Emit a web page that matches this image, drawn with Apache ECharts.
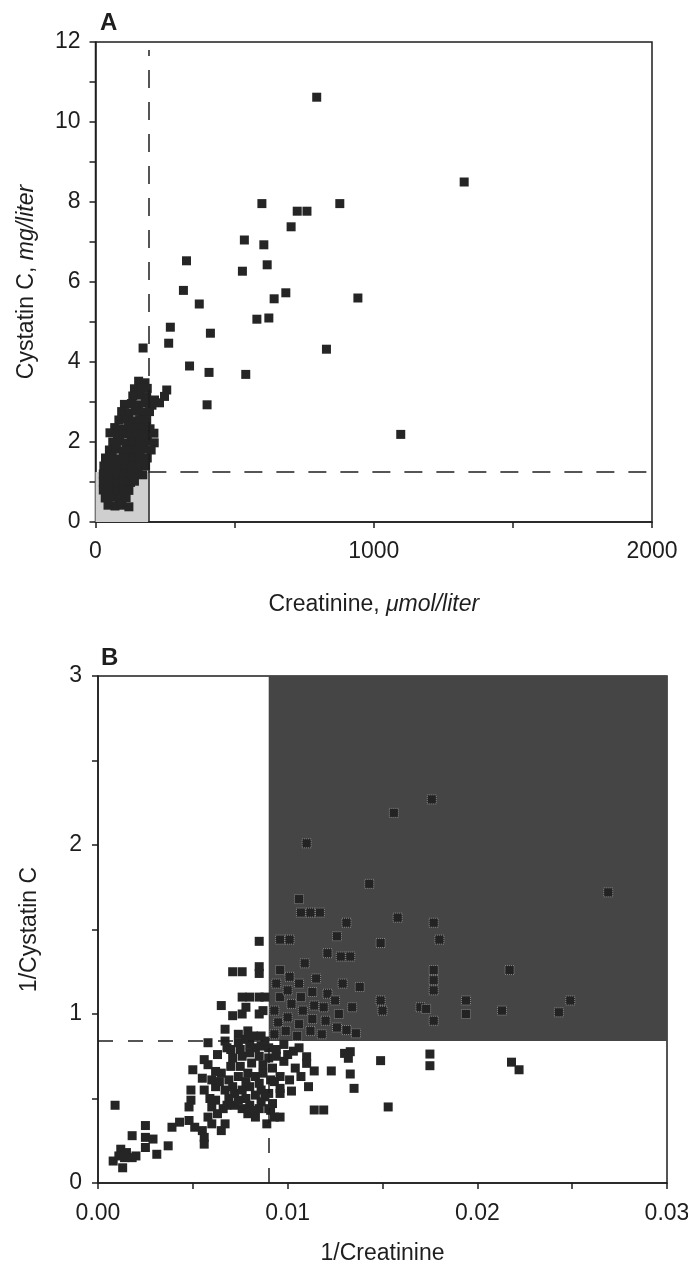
<!DOCTYPE html>
<html>
<head>
<meta charset="utf-8">
<script src="https://cdn.jsdelivr.net/npm/echarts@6/dist/echarts.min.js"></script>
<style>
html, body { margin: 0; padding: 0; background: #fff; }
#chart { width: 688px; height: 1275px; }
</style>
</head>
<body>
<div id="chart"></div>
<script>
// Panel A: creatinine (umol/liter) vs cystatin C (mg/liter)
const aOutliers = [
    [795, 10.62], [1325, 8.5], [598, 7.96], [878, 7.96], [725, 7.77], [760, 7.77],
    [703, 7.38], [535, 7.05], [605, 6.93], [327, 6.53], [528, 6.27], [617, 6.43],
    [316, 5.79], [684, 5.73], [642, 5.58], [943, 5.6], [373, 5.45], [580, 5.07],
    [623, 5.1], [269, 4.87], [413, 4.72], [263, 4.47], [171, 4.35], [830, 4.32],
    [338, 3.9], [408, 3.74], [540, 3.69], [401, 2.93], [1097, 2.19]
];
const aCluster = [
    [155, 3.52], [178, 3.48],
    [140, 3.33], [164, 3.36], [186, 3.34], [256, 3.3],
    [134, 3.15], [159, 3.17], [184, 3.13], [212, 3.05], [248, 3.14],
    [104, 2.94], [129, 2.96], [154, 2.93], [179, 2.97], [203, 2.92], [230, 2.98],
    [94, 2.76], [119, 2.73], [144, 2.77], [169, 2.74], [194, 2.76],
    [84, 2.55], [109, 2.57], [134, 2.53], [159, 2.56], [184, 2.54],
    [69, 2.36], [94, 2.33], [119, 2.37], [144, 2.34], [169, 2.36], [196, 2.33],
    [52, 2.23], [79, 2.18], [104, 2.21], [129, 2.17], [154, 2.2], [179, 2.18], [210, 2.22],
    [62, 2.0], [86, 2.02], [111, 1.98], [136, 2.01], [161, 1.99], [186, 2.02], [211, 1.98],
    [50, 1.8], [75, 1.82], [100, 1.78], [125, 1.81], [150, 1.79], [175, 1.82], [200, 1.8],
    [36, 1.6], [60, 1.62], [85, 1.58], [110, 1.61], [135, 1.59], [160, 1.62], [186, 1.6],
    [30, 1.4], [55, 1.42], [80, 1.38], [105, 1.41], [130, 1.39], [155, 1.42], [180, 1.4],
    [28, 1.2], [53, 1.22], [78, 1.18], [103, 1.21], [128, 1.19], [153, 1.22], [170, 1.18],
    [28, 1.0], [53, 1.02], [78, 0.98], [103, 1.01], [126, 0.99], [140, 1.02],
    [28, 0.8], [53, 0.82], [78, 0.78], [103, 0.81], [120, 0.79],
    [35, 0.6], [60, 0.62], [85, 0.58], [110, 0.61],
    [45, 0.42], [70, 0.4], [95, 0.42], [120, 0.38]
];
const aRefCreatinine = 190;
const aRefCystatin = 1.25;
const aXLabels = [0, 1000, 2000];
const aYLabels = [0, 2, 4, 6, 8, 10, 12];

// Panel B: 1/creatinine vs 1/cystatin C
const bPoints = [
    [0.0008, 0.13], [0.0013, 0.09], [0.0012, 0.20], [0.0015, 0.18], [0.0018, 0.15], [0.0014, 0.15],
    [0.0020, 0.16], [0.0011, 0.16], [0.0009, 0.46], [0.0018, 0.28], [0.0025, 0.34], [0.0025, 0.27],
    [0.0029, 0.26], [0.0025, 0.21], [0.0031, 0.17], [0.0037, 0.22], [0.0039, 0.33], [0.0043, 0.36],
    [0.0048, 0.37], [0.0051, 0.33], [0.0055, 0.31], [0.0060, 0.35], [0.0056, 0.27], [0.0058, 0.39],
    [0.0056, 0.23], [0.0065, 0.31], [0.0067, 0.35],
    [0.0049, 0.55], [0.0049, 0.49], [0.0048, 0.45], [0.0056, 0.55], [0.0059, 0.50], [0.0062, 0.57],
    [0.0055, 0.62], [0.0050, 0.67], [0.0058, 0.70], [0.0056, 0.73], [0.0060, 0.45], [0.0063, 0.41],
    [0.0065, 0.65], [0.0069, 0.61], [0.0074, 0.63], [0.0079, 0.65], [0.0083, 0.63], [0.0087, 0.65],
    [0.0092, 0.68], [0.0096, 0.63], [0.0067, 0.55], [0.0072, 0.53], [0.0076, 0.55], [0.0080, 0.57],
    [0.0086, 0.55], [0.0090, 0.53], [0.0072, 0.46], [0.0076, 0.44], [0.0080, 0.46], [0.0086, 0.48],
    [0.0090, 0.44], [0.0083, 0.39], [0.0079, 0.41], [0.0069, 0.50],
    [0.0071, 0.74], [0.0076, 0.75], [0.0080, 0.77], [0.0085, 0.75], [0.0090, 0.74], [0.0094, 0.75],
    [0.0058, 0.83], [0.0067, 0.84], [0.0074, 0.83], [0.0078, 0.85], [0.0083, 0.80], [0.0086, 0.81],
    [0.0090, 0.80], [0.0067, 0.91], [0.0074, 0.88], [0.0079, 0.90], [0.0082, 0.87], [0.0086, 0.87],
    [0.0065, 1.05], [0.0071, 0.99], [0.0076, 1.00], [0.0078, 1.04], [0.0085, 1.00], [0.0087, 1.02],
    [0.0076, 1.10], [0.0080, 1.10], [0.0085, 1.10], [0.0088, 1.10], [0.0071, 1.25], [0.0076, 1.25],
    [0.0085, 1.28], [0.0085, 1.24], [0.0085, 1.43], [0.0070, 0.69], [0.0063, 0.76], [0.0068, 0.80],
    [0.0075, 0.69], [0.0081, 0.71], [0.0087, 0.70], [0.0091, 0.61], [0.0085, 0.59], [0.0078, 0.60],
    [0.0071, 0.57], [0.0064, 0.60], [0.0083, 0.52], [0.0078, 0.50], [0.0074, 0.49], [0.0088, 0.51],
    [0.0085, 0.44], [0.0081, 0.43], [0.0066, 0.44], [0.0068, 0.46], [0.0062, 0.49], [0.0070, 0.79],
    [0.0075, 0.79], [0.0080, 0.82], [0.0088, 0.84], [0.0062, 0.66], [0.0060, 0.61],
    [0.0096, 0.56], [0.0096, 0.53], [0.0102, 0.544], [0.0092, 0.47], [0.0091, 0.43], [0.0093, 0.39],
    [0.0089, 0.35], [0.0096, 0.39], [0.0098, 0.82], [0.0103, 0.78], [0.0098, 0.72], [0.0104, 0.68],
    [0.0093, 0.60], [0.0101, 0.61], [0.0106, 0.80], [0.0100, 0.76], [0.0094, 0.79],
    [0.0130, 0.767], [0.0133, 0.777], [0.0132, 0.738], [0.0149, 0.724], [0.0175, 0.763], [0.0175, 0.694],
    [0.0123, 0.663], [0.0133, 0.645], [0.0135, 0.56], [0.0114, 0.663], [0.0110, 0.747], [0.0110, 0.708],
    [0.0107, 0.63], [0.0111, 0.57], [0.0114, 0.432], [0.0119, 0.432], [0.0153, 0.45],
    [0.0218, 0.715], [0.0222, 0.67],
    // inside the shaded quadrant
    [0.0093, 0.88], [0.0095, 0.95], [0.0093, 1.02], [0.0096, 1.10], [0.0094, 1.18], [0.0096, 1.26],
    [0.0099, 0.90], [0.0100, 0.98], [0.0102, 1.06], [0.0100, 1.14], [0.0101, 1.22], [0.0105, 0.87],
    [0.0106, 0.94], [0.0108, 1.02], [0.0107, 1.10], [0.0106, 1.18], [0.0109, 1.30], [0.0112, 0.90],
    [0.0113, 0.97], [0.0114, 1.05], [0.0113, 1.13], [0.0115, 1.21], [0.0118, 0.88], [0.0120, 0.96],
    [0.0119, 1.04], [0.0121, 1.12], [0.0126, 0.92], [0.0127, 1.00], [0.0125, 1.08], [0.0129, 1.18],
    [0.0131, 0.905], [0.0136, 0.886], [0.0134, 1.04], [0.0133, 1.34], [0.0128, 1.34], [0.0121, 1.36],
    [0.0126, 1.46], [0.0096, 1.44], [0.0101, 1.44], [0.0107, 1.60], [0.0112, 1.60], [0.0117, 1.60],
    [0.0131, 1.54], [0.0158, 1.57], [0.0177, 1.54], [0.0180, 1.44], [0.0149, 1.42], [0.0177, 1.26],
    [0.0177, 1.20], [0.0177, 1.14], [0.0138, 1.16], [0.0149, 1.08], [0.0150, 1.02], [0.0170, 1.04],
    [0.0194, 1.08], [0.0194, 1.00], [0.0177, 0.96], [0.0173, 1.03], [0.0217, 1.26], [0.0213, 1.02],
    [0.0249, 1.08], [0.0243, 1.01], [0.0269, 1.72], [0.0176, 2.27], [0.0156, 2.19], [0.0110, 2.01],
    [0.0143, 1.77], [0.0106, 1.68]
];
const bRefX = 0.009;
const bRefY = 0.84;
const bXLabels = ['0.00', '0.01', '0.02', '0.03'];
const bYLabels = [0, 1, 2, 3];

const chart = echarts.init(document.getElementById('chart'));

const font = '"Liberation Sans", Arial, Helvetica, sans-serif';
const ink = '#1e1e1e';
const dotColor = '#252525';

function axisBase() {
    return {
        type: 'value',
        axisLine: { show: true, onZero: false, lineStyle: { color: ink, width: 1.5 } },
        axisTick: { show: true, inside: false, length: 6, lineStyle: { color: ink, width: 1.5 } },
        splitLine: { show: false },
        nameTextStyle: {
            fontFamily: font, fontSize: 23, color: ink,
            rich: { i: { fontFamily: font, fontSize: 23, color: ink, fontStyle: 'italic' } }
        }
    };
}

const bData = bPoints.map(function (p) {
    if (p[0] > bRefX && p[1] > bRefY) {
        return {
            value: p,
            itemStyle: { color: '#232323', borderColor: '#8c8c8c', borderWidth: 1, borderType: 'dotted' }
        };
    }
    return p;
});

const option = {
    animation: false,
    backgroundColor: '#fff',
    title: [
        { text: 'A', left: 95, top: 6, textStyle: { fontFamily: font, fontSize: 24, fontWeight: 'bold', color: ink } },
        { text: 'B', left: 96, top: 641, textStyle: { fontFamily: font, fontSize: 24, fontWeight: 'bold', color: ink } }
    ],
    grid: [
        { left: 95.5, right: 36, top: 42, height: 480, show: true, borderColor: ink, borderWidth: 1.5, outerBoundsMode: 'none' },
        { left: 98, right: 21, top: 676, height: 507, show: true, borderColor: ink, borderWidth: 1.5, outerBoundsMode: 'none' }
    ],
    xAxis: [
        Object.assign(axisBase(), {
            gridIndex: 0, min: 0, max: 2000, interval: 500,
            name: 'Creatinine, {i|μmol/liter}', nameLocation: 'middle', nameGap: 71,
            axisLabel: {
                margin: 18, fontFamily: font, fontSize: 23, color: ink,
                formatter: function (v) { return aXLabels.indexOf(v) >= 0 ? String(v) : ''; }
            }
        }),
        Object.assign(axisBase(), {
            gridIndex: 1, min: 0, max: 0.03, interval: 0.005,
            name: '1/Creatinine', nameLocation: 'middle', nameGap: 59,
            axisLabel: {
                margin: 19, fontFamily: font, fontSize: 23, color: ink,
                formatter: function (v) {
                    const s = v.toFixed(2);
                    return Math.abs(v - Number(s)) < 1e-9 && bXLabels.indexOf(s) >= 0 ? s : '';
                }
            }
        })
    ],
    yAxis: [
        Object.assign(axisBase(), {
            gridIndex: 0, min: 0, max: 12, interval: 1,
            name: 'Cystatin C, {i|mg/liter}', nameLocation: 'middle', nameRotate: 90, nameGap: 57,
            axisLabel: {
                margin: 15, fontFamily: font, fontSize: 23, color: ink,
                formatter: function (v) { return aYLabels.indexOf(v) >= 0 ? String(v) : ''; }
            }
        }),
        Object.assign(axisBase(), {
            gridIndex: 1, min: 0, max: 3, interval: 0.5,
            name: '1/Cystatin C', nameLocation: 'middle', nameRotate: 90, nameGap: 57,
            axisLabel: {
                margin: 16, fontFamily: font, fontSize: 23, color: ink,
                formatter: function (v) { return bYLabels.indexOf(v) >= 0 ? String(v) : ''; }
            }
        })
    ],
    series: [
        {
            name: 'Panel A',
            type: 'scatter',
            xAxisIndex: 0,
            yAxisIndex: 0,
            symbol: 'rect',
            symbolSize: 9,
            itemStyle: { color: dotColor, opacity: 1 },
            data: aOutliers.concat(aCluster),
            markArea: {
                silent: true,
                itemStyle: { color: '#cfcfcf' },
                data: [[{ coord: [0, 0] }, { coord: [aRefCreatinine, aRefCystatin] }]]
            },
            markLine: {
                silent: true,
                symbol: ['none', 'none'],
                label: { show: false },
                lineStyle: { color: ink, width: 1.5, type: [18, 14] },
                data: [
                    [{ coord: [aRefCreatinine, aRefCystatin] }, { coord: [aRefCreatinine, 11.8] }],
                    [{ coord: [aRefCreatinine, aRefCystatin] }, { coord: [2000, aRefCystatin] }],
                    [{ coord: [aRefCreatinine, 0], lineStyle: { type: 'solid' } }, { coord: [aRefCreatinine, aRefCystatin] }]
                ]
            }
        },
        {
            name: 'Panel B',
            type: 'scatter',
            xAxisIndex: 1,
            yAxisIndex: 1,
            symbol: 'rect',
            symbolSize: 9,
            itemStyle: { color: dotColor, opacity: 1 },
            data: bData,
            markArea: {
                silent: true,
                itemStyle: { color: '#454545' },
                data: [[{ coord: [bRefX, bRefY] }, { coord: [0.03, 3] }]]
            },
            markLine: {
                silent: true,
                symbol: ['none', 'none'],
                label: { show: false },
                lineStyle: { color: ink, width: 1.5, type: [15, 15] },
                data: [
                    [{ coord: [0, bRefY] }, { coord: [bRefX, bRefY] }],
                    [{ coord: [bRefX, 0] }, { coord: [bRefX, bRefY] }]
                ]
            }
        }
    ]
};

chart.setOption(option);

window.addEventListener('resize', function () {
    chart.resize();
});
</script>
</body>
</html>
